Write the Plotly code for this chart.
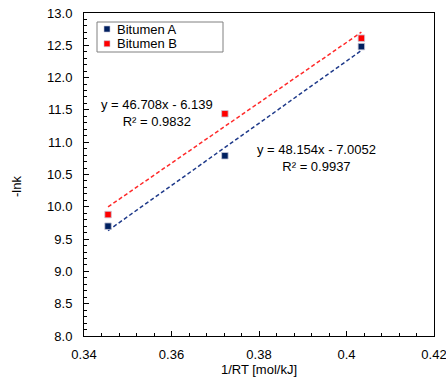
import plotly.graph_objects as go

x_vals = [0.3455, 0.3722, 0.4034]
y_a = [9.70, 10.79, 12.48]
y_b = [9.88, 11.44, 12.61]
series_names = ["Bitumen A", "Bitumen B"]
slopes = [48.154, 46.708]
intercepts = [-7.0052, -6.139]
eq_texts = ["y = 48.154x - 7.0052<br>R² = 0.9937", "y = 46.708x - 6.139<br>R² = 0.9832"]
x_ticks = [0.34, 0.36, 0.38, 0.40, 0.42]
x_tick_labels = ["0.34", "0.36", "0.38", "0.4", "0.42"]
y_ticks = [8.0, 8.5, 9.0, 9.5, 10.0, 10.5, 11.0, 11.5, 12.0, 12.5, 13.0]
x_title = "1/RT [mol/kJ]"
y_title = "-lnk"

colors_pts = ["#002060", "#FF0000"]
colors_line = ["#1F3A8A", "#FF2A2A"]

fig = go.Figure()
FONT = "Liberation Sans, Arial, sans-serif"

# trendlines
for i, ys in enumerate([y_a, y_b]):
    xs = [x_vals[0], x_vals[-1]]
    fig.add_trace(go.Scatter(
        x=xs, y=[slopes[i] * v + intercepts[i] for v in xs],
        mode="lines", line=dict(color=colors_line[i], width=1.5, dash="4px,2.5px"),
        showlegend=False, hoverinfo="skip"))

for i, ys in enumerate([y_a, y_b]):
    fig.add_trace(go.Scatter(
        x=x_vals, y=ys, mode="markers", name=series_names[i], showlegend=False,
        marker=dict(symbol="square", size=6.5, color=colors_pts[i],
                    line=dict(color="#C8C8D8", width=0.8))))

# equation labels
fig.add_annotation(x=0.3932, y=10.76, xref="x", yref="y", text=eq_texts[0],
                   showarrow=False, font=dict(family=FONT, size=13, color="#000"),
                   align="center")
fig.add_annotation(x=0.3566, y=11.45, xref="x", yref="y", text=eq_texts[1],
                   showarrow=False, font=dict(family=FONT, size=13, color="#000"),
                   align="center")

# legend box (drawn manually to match compact spacing)
W, H = 446, 377
L, R, T, B = 84, 12, 13, 41
pw, ph = W - L - R, H - T - B
def px(xp):
    return (xp - L) / pw
def py(yp):
    return 1 - (yp - T) / ph

fig.add_shape(type="rect", xref="paper", yref="paper",
              x0=px(97), x1=px(223), y0=py(52), y1=py(22),
              line=dict(color="#808080", width=1), fillcolor="white", layer="above")
for i, name in enumerate(series_names):
    yc = 29 + i * 14.7
    fig.add_shape(type="rect", xref="paper", yref="paper",
                  x0=px(104), x1=px(110), y0=py(yc + 3), y1=py(yc - 3),
                  line=dict(color="#C8C8D8", width=0.6), fillcolor=colors_pts[i],
                  layer="above")
    fig.add_annotation(x=px(114.5), y=py(yc), xref="paper", yref="paper",
                       text=name, showarrow=False, xanchor="left", yanchor="middle",
                       font=dict(family=FONT, size=13, color="#000"))

# y-axis title placed explicitly
fig.add_annotation(x=px(16), y=py(187), xref="paper", yref="paper", text=y_title,
                   textangle=-90, showarrow=False, xanchor="center", yanchor="middle",
                   font=dict(family=FONT, size=13, color="#000"))

axis_common = dict(
    showgrid=False, zeroline=False, showline=True, linecolor="#000", linewidth=1,
    mirror=True, ticks="inside", ticklen=5, tickcolor="#000", automargin=False,
    ticklabeloverflow="allow",
    tickfont=dict(family=FONT, size=13, color="#000"),
)

fig.update_layout(
    width=W, height=H,
    margin=dict(l=L, r=R, t=T, b=B),
    plot_bgcolor="white", paper_bgcolor="white",
    font=dict(family=FONT, size=13, color="#000"),
    showlegend=False,
    xaxis=dict(range=[0.34, 0.42], tickvals=x_ticks, ticktext=x_tick_labels,
               minor=dict(dtick=0.004, ticks="inside", ticklen=3, tickcolor="#000"),
               ticklabelstandoff=6,
               title=dict(text=x_title, standoff=3,
                          font=dict(family=FONT, size=13)),
               **axis_common),
    yaxis=dict(range=[8.0, 13.0], tickvals=y_ticks, tickformat=".1f",
               minor=dict(dtick=0.1, ticks="inside", ticklen=3, tickcolor="#000"),
               ticklabelstandoff=8,
               **axis_common),
)

fig.write_html("out.html")
